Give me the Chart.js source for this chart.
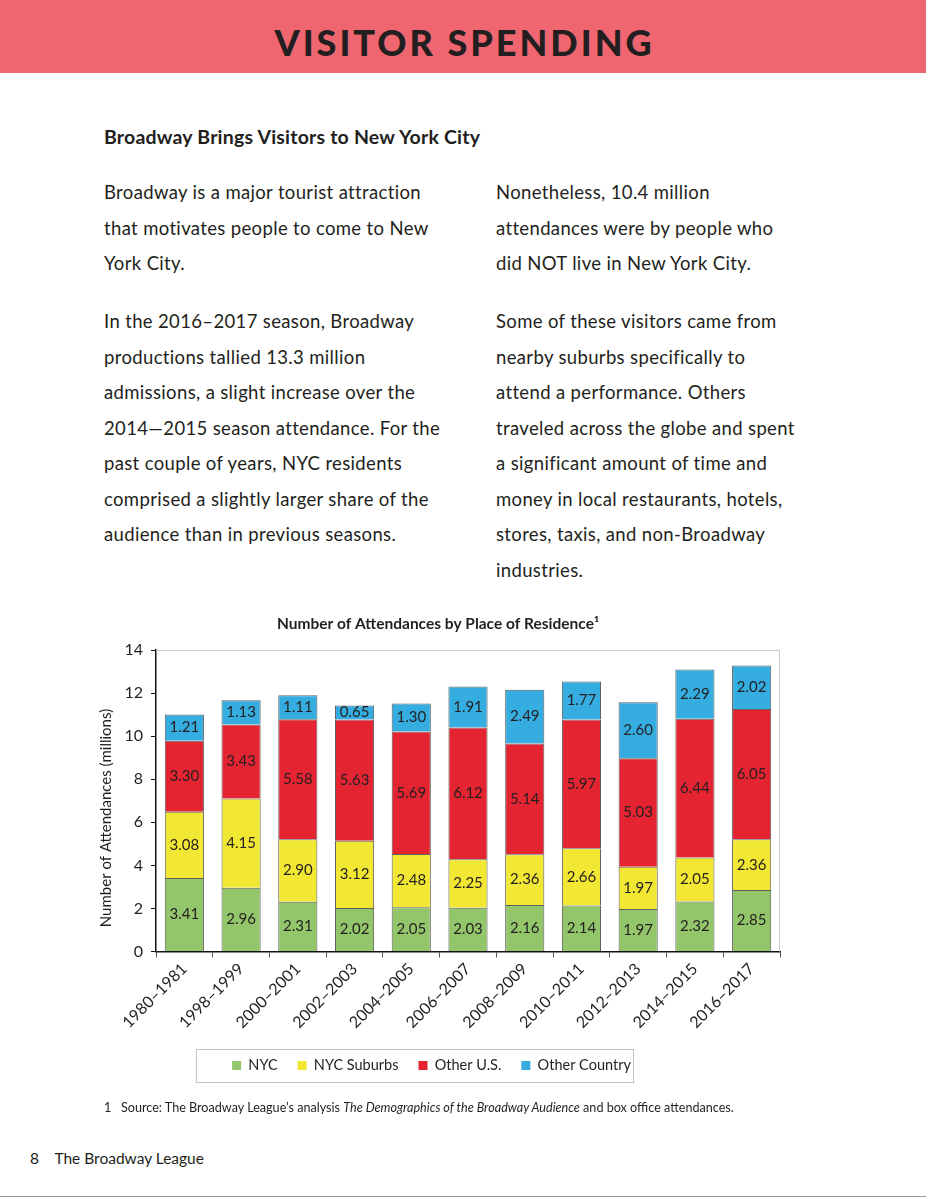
<!DOCTYPE html>
<html><head><meta charset="utf-8">
<script src="https://cdn.jsdelivr.net/npm/chart.js@4.4.0/dist/chart.umd.min.js"></script>
<style>
html,body{margin:0;padding:0;background:#fff;}
body{width:926px;height:1199px;position:relative;overflow:hidden;font-family:Lato,"Open Sans",sans-serif;color:#231f20;}
.band{position:absolute;left:0;top:0;width:926px;height:73px;background:#ef6670;}
.band h1{margin:0;position:absolute;left:0;top:0;width:926px;text-align:center;line-height:84px;font-size:36px;font-weight:900;letter-spacing:3px;padding-left:3px;box-sizing:border-box;color:#231f20;}
.h2{position:absolute;left:104px;top:125px;font-size:19.5px;line-height:24px;font-weight:700;white-space:nowrap;letter-spacing:0.2px;}
.p{position:absolute;font-size:18.5px;line-height:35.5px;white-space:nowrap;letter-spacing:0.35px;}
.foot{position:absolute;left:104px;top:1100px;font-size:12.6px;line-height:16px;white-space:nowrap;}
.pg{position:absolute;left:30px;top:1148px;font-size:15.5px;line-height:20px;white-space:nowrap;}
.rule{position:absolute;left:0;top:1196px;width:926px;height:1px;background:#9a9a9a;}
#wrap{position:absolute;left:70px;top:608px;width:740px;height:494px;}
</style></head>
<body>
<div class="band"><h1>VISITOR SPENDING</h1></div>
<div class="h2">Broadway Brings Visitors to New York City</div>
<div class="p" style="left:104px;top:175px;">Broadway is a major tourist attraction<br>that motivates people to come to New<br>York City.</div>
<div class="p" style="left:104px;top:304px;">In the 2016–2017 season, Broadway<br>productions tallied 13.3 million<br>admissions, a slight increase over the<br>2014—2015 season attendance. For the<br>past couple of years, NYC residents<br>comprised a slightly larger share of the<br>audience than in previous seasons.</div>
<div class="p" style="left:496px;top:175px;">Nonetheless, 10.4 million<br>attendances were by people who<br>did NOT live in New York City.</div>
<div class="p" style="left:496px;top:304px;">Some of these visitors came from<br>nearby suburbs specifically to<br>attend a performance. Others<br>traveled across the globe and spent<br>a significant amount of time and<br>money in local restaurants, hotels,<br>stores, taxis, and non-Broadway<br>industries.</div>
<div id="wrap"><canvas id="c" width="740" height="494"></canvas></div>
<div class="foot">1&nbsp;&nbsp; Source: The Broadway League’s analysis <i>The Demographics of the Broadway Audience</i> and box office attendances.</div>
<div class="pg">8&nbsp;&nbsp;&nbsp; The Broadway League</div>
<div class="rule"></div>
<script>
const categories = ['1980–1981','1998–1999','2000–2001','2002–2003','2004–2005','2006–2007','2008–2009','2010–2011','2012–2013','2014–2015','2016–2017'];
const seriesNames = ['NYC','NYC Suburbs','Other U.S.','Other Country'];
const nyc = [3.41, 2.96, 2.31, 2.02, 2.05, 2.03, 2.16, 2.14, 1.97, 2.32, 2.85];
const nycSuburbs = [3.08, 4.15, 2.90, 3.12, 2.48, 2.25, 2.36, 2.66, 1.97, 2.05, 2.36];
const otherUS = [3.30, 3.43, 5.58, 5.63, 5.69, 6.12, 5.14, 5.97, 5.03, 6.44, 6.05];
const otherCountry = [1.21, 1.13, 1.11, 0.65, 1.30, 1.91, 2.49, 1.77, 2.60, 2.29, 2.02];
const yTicks = [0, 2, 4, 6, 8, 10, 12, 14];

const seriesValues = [nyc, nycSuburbs, otherUS, otherCountry];
const seriesColors = ['#93c66a', '#f2e733', '#e52431', '#35ade1'];
const FONT = 'Lato, "Open Sans", sans-serif';
const INK = '#231f20';
const legendFrame = {left: 126, top: 441, width: 437, height: 33};
const legendItemsCenterX = 361.5;

const valueLabels = {
  id: 'valueLabels',
  afterDatasetsDraw(chart) {
    const ctx = chart.ctx;
    ctx.save();
    ctx.font = '15px ' + FONT;
    ctx.fillStyle = INK;
    ctx.textAlign = 'center';
    ctx.textBaseline = 'middle';
    chart.data.datasets.forEach((ds, di) => {
      const meta = chart.getDatasetMeta(di);
      meta.data.forEach((el, i) => {
        const v = ds.data[i];
        ctx.fillText(v.toFixed(2), el.x, (el.y + el.base) / 2);
      });
    });
    ctx.restore();
  }
};

const frame = {
  id: 'frame',
  afterLayout(chart) {
    const lg = chart.legend;
    if (!lg) return;
    const pad = lg.options.labels.padding;
    const fs = lg.options.labels.font.size;
    const itemH = Math.max(fs, lg.options.labels.boxHeight);
    const cy = legendFrame.top + legendFrame.height / 2;
    lg.left = legendItemsCenterX - 260; lg.right = legendItemsCenterX + 260; lg.width = 520;
    lg.top = cy - itemH / 2 - pad; lg.bottom = lg.top + lg.height;
  },
  beforeDatasetsDraw(chart) {
    const {ctx, chartArea: a} = chart;
    ctx.save();
    ctx.strokeStyle = '#c9c9c9';
    ctx.lineWidth = 1;
    ctx.beginPath();
    ctx.moveTo(a.left, a.top + 0.5);
    ctx.lineTo(a.right - 0.5, a.top + 0.5);
    ctx.lineTo(a.right - 0.5, a.bottom);
    ctx.stroke();
    ctx.restore();
  },
  afterDraw(chart) {
    const ctx = chart.ctx;
    ctx.save();
    ctx.strokeStyle = '#c3c3c3';
    ctx.lineWidth = 1;
    ctx.strokeRect(legendFrame.left + 0.5, legendFrame.top + 0.5, legendFrame.width, legendFrame.height);
    ctx.restore();
  }
};

new Chart(document.getElementById('c'), {
  type: 'bar',
  data: {
    labels: categories,
    datasets: seriesNames.map((name, k) => ({
      label: name,
      data: seriesValues[k],
      backgroundColor: seriesColors[k],
      borderColor: 'rgba(55,55,55,0.8)',
      borderWidth: 1,
      barPercentage: 0.69,
      categoryPercentage: 1
    }))
  },
  options: {
    responsive: false,
    animation: false,
    devicePixelRatio: 1,
    layout: {padding: {left: 26, right: 30, top: 0, bottom: 16}},
    plugins: {
      title: {display: true, text: 'Number of Attendances by Place of Residence¹', color: INK,
        font: {family: FONT, size: 15.5, weight: 'bold'}, padding: {top: 7, bottom: 16.4}},
      legend: {position: 'bottom',
        labels: {boxWidth: 9, boxHeight: 9, padding: 20, color: INK, font: {family: FONT, size: 14.5},
          generateLabels(chart) {
            return Chart.defaults.plugins.legend.labels.generateLabels(chart).map(l => Object.assign(l, {lineWidth: 0, strokeStyle: l.fillStyle}));
          }}},
      tooltip: {enabled: false}
    },
    scales: {
      x: {
        stacked: true,
        grid: {display: true, drawOnChartArea: false, drawTicks: true, tickLength: 6, color: '#555', offset: true},
        border: {color: '#111', width: 1.5},
        ticks: {minRotation: 45, maxRotation: 45, autoSkip: false, padding: 2, color: INK, font: {family: FONT, size: 16}},
        afterFit(s) { s.height = 90; }
      },
      y: {
        stacked: true,
        min: yTicks[0], max: yTicks[yTicks.length - 1],
        ticks: {stepSize: yTicks[1] - yTicks[0], padding: 8, color: INK, font: {family: FONT, size: 16}},
        grid: {drawOnChartArea: false, drawTicks: true, tickLength: 5, color: '#111'},
        border: {color: '#111', width: 1.5},
        title: {display: true, text: 'Number of Attendances (millions)         ', color: INK, font: {family: FONT, size: 15}, padding: {top: 1, bottom: 0}},
        afterFit(s) { s.width = 60; }
      }
    }
  },
  plugins: [valueLabels, frame]
});
</script>
</body></html>
